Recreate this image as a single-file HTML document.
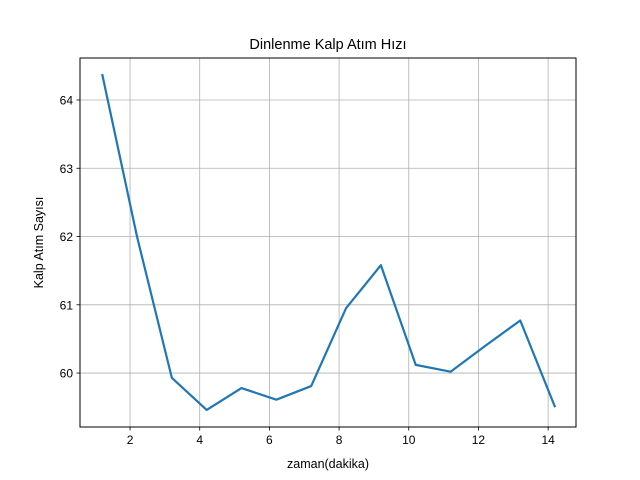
<!DOCTYPE html>
<html><head><meta charset="utf-8"><style>
html,body{margin:0;padding:0;background:#fff;}
svg{display:block;font-family:"Liberation Sans","DejaVu Sans",sans-serif;}
</style></head><body>
<svg id="chart" width="640" height="480" viewBox="0 0 640 480">
<rect width="640" height="480" fill="#fff"/>
<g id="grid"></g>
<g id="ticks"></g>
<path id="line" fill="none" stroke="#1f77b4" stroke-width="2.2" stroke-linejoin="round"/>
<rect x="80" y="58" width="496" height="369" fill="none" stroke="#000" stroke-width="1"/>
<text x="328" y="49" text-anchor="middle" font-size="14.5">Dinlenme Kalp Atım Hızı</text>
<text x="328" y="468" text-anchor="middle" font-size="12.5">zaman(dakika)</text>
<text transform="translate(43,242.5) rotate(-90)" text-anchor="middle" font-size="12.5">Kalp Atım Sayısı</text>
</svg>
<script>
const xValues=[1.2,2.2,3.2,4.2,5.2,6.2,7.2,8.2,9.2,10.2,11.2,12.2,13.2,14.2];
const yValues=[64.38,62.0,59.93,59.46,59.78,59.61,59.81,60.95,61.58,60.12,60.02,60.40,60.77,59.50];
const xTicks=[2,4,6,8,10,12,14];
const yTicks=[60,61,62,63,64];
const L=80,R=576,T=58,B=427;
const xMin=0.564,xMax=14.80,yMin=59.21,yMax=64.615;
const sx=v=>L+(v-xMin)/(xMax-xMin)*(R-L);
const sy=v=>B-(v-yMin)/(yMax-yMin)*(B-T);
const NS="http://www.w3.org/2000/svg";
const grid=document.getElementById('grid'),ticks=document.getElementById('ticks');
function mk(tag,attrs,parent){const e=document.createElementNS(NS,tag);for(const k in attrs)e.setAttribute(k,attrs[k]);parent.appendChild(e);return e;}
xTicks.forEach(t=>{const x=sx(t);
 const g=mk('line',{x1:x,x2:x,y1:T,y2:B,stroke:'#b0b0b0','stroke-width':0.8},grid);
 
 
 const k=mk('line',{x1:x,x2:x,y1:B,y2:B+3.5,stroke:'#000','stroke-width':0.8},ticks);
 
 
 const l=mk('text',{x:x,y:B+17,'text-anchor':'middle','font-size':12},ticks);l.textContent=t;
 
 
});
yTicks.forEach(t=>{const y=sy(t);
 const g=mk('line',{x1:L,x2:R,y1:y,y2:y,stroke:'#b0b0b0','stroke-width':0.8},grid);
 
 
 const k=mk('line',{x1:L-3.5,x2:L,y1:y,y2:y,stroke:'#000','stroke-width':0.8},ticks);
 
 
 const l=mk('text',{x:L-7,y:y+4.5,'text-anchor':'end','font-size':12},ticks);l.textContent=t;
 
 
});
document.getElementById('line').setAttribute('d',xValues.map((x,i)=>(i?'L':'M')+sx(x).toFixed(2)+','+sy(yValues[i]).toFixed(2)).join(' '));
</script>
</body></html>
